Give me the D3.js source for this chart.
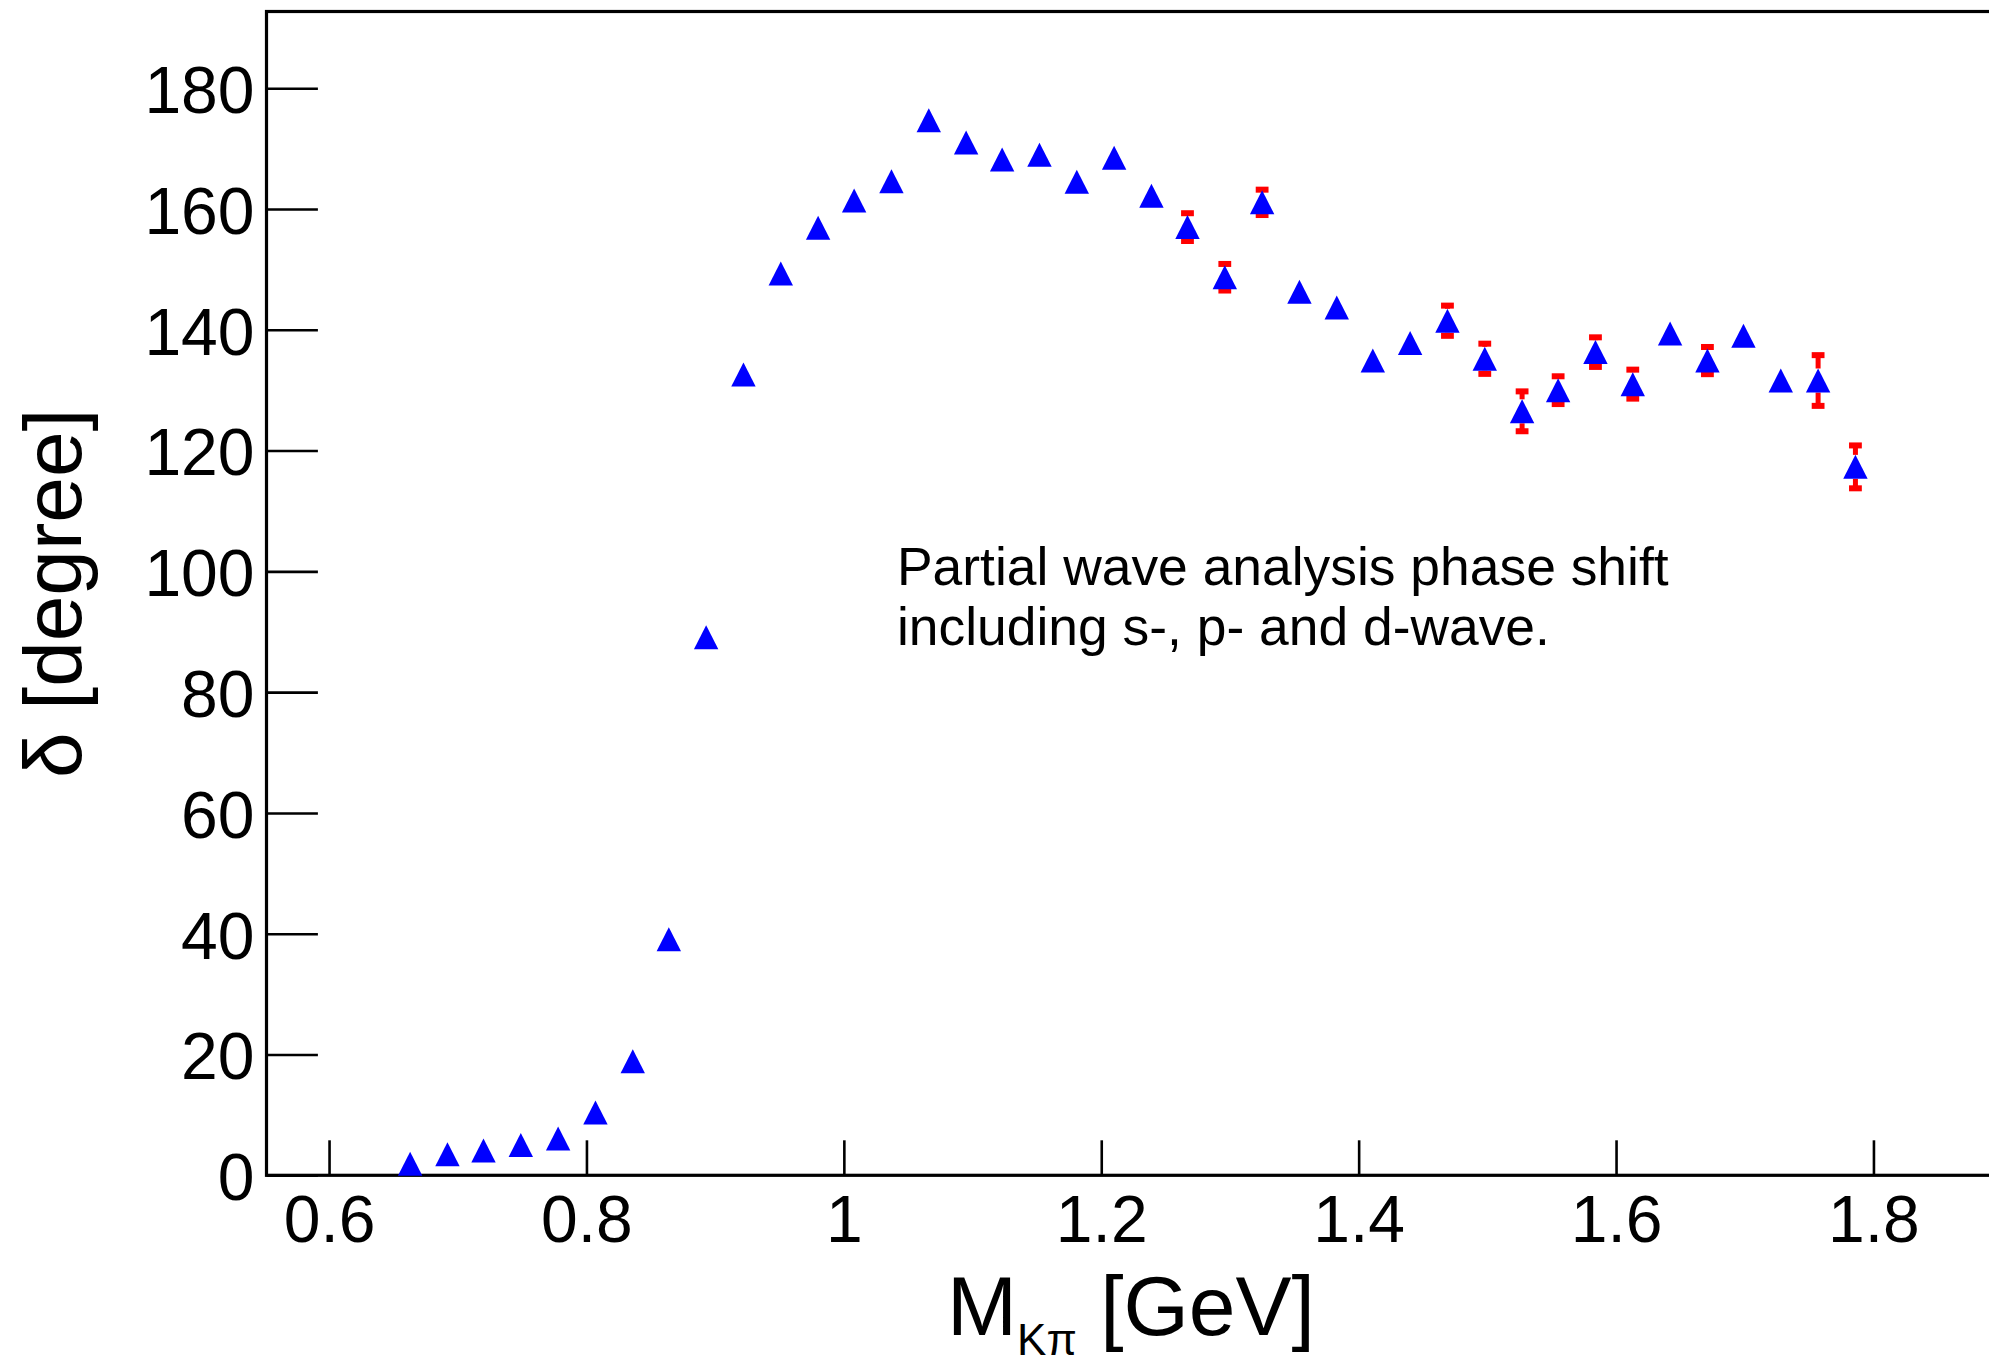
<!DOCTYPE html>
<html>
<head>
<meta charset="utf-8">
<title>K pi phase shift</title>
<script src="https://d3js.org/d3.v7.min.js"></script>
<style>
body { margin: 0; background: #fff; }
svg { display: block; font-family: "Liberation Sans", Arial, Helvetica, sans-serif; }
</style>
</head>
<body>
<div id="chart"></div>

<script>
// K pi mass bins [GeV]
var mass = [0.663, 0.692, 0.720, 0.749, 0.778, 0.807, 0.836, 0.864, 0.893, 0.922,
            0.951, 0.980, 1.008, 1.037, 1.066, 1.095, 1.123, 1.152, 1.181, 1.210,
            1.239, 1.267, 1.296, 1.325, 1.354, 1.383, 1.411, 1.440, 1.469, 1.498,
            1.527, 1.555, 1.584, 1.613, 1.642, 1.671, 1.699, 1.728, 1.757, 1.786];

// phase shift [degree]
var phase = [1.9, 3.5, 4.1, 5.0, 6.1, 10.4, 18.9, 39.1, 89.1, 132.6,
             149.3, 156.9, 161.4, 164.6, 174.7, 171.0, 168.2, 169.0, 164.5, 168.5,
             162.2, 157.0, 148.7, 161.1, 146.3, 143.7, 134.9, 137.8, 141.5, 135.2,
             126.5, 130.0, 136.3, 131.0, 139.4, 134.9, 139.0, 131.6, 131.6, 117.3];

// error on phase shift [degree]
var phaseErr = [0.3, 0.3, 0.3, 0.3, 0.4, 0.5, 0.6, 0.8, 1.0, 1.2,
                1.2, 1.3, 1.3, 1.4, 1.5, 1.5, 1.5, 1.6, 1.6, 1.7,
                1.8, 2.3, 2.2, 2.1, 1.8, 1.8, 1.7, 1.8, 2.5, 2.5,
                3.3, 2.3, 2.45, 2.4, 1.9, 2.25, 1.9, 1.9, 4.2, 3.55];

// tick labels
var xTicks = [0.6, 0.8, 1, 1.2, 1.4, 1.6, 1.8];
var xTickLabels = ["0.6", "0.8", "1", "1.2", "1.4", "1.6", "1.8"];
var yTicks = [0, 20, 40, 60, 80, 100, 120, 140, 160, 180];
var yTickLabels = ["0", "20", "40", "60", "80", "100", "120", "140", "160", "180"];

// text
var xTitle = {main: "M", sub: "K\u03c0", unit: " [GeV]"};
var yTitle = "\u03b4 [degree]";
var noteLines = ["Partial wave analysis phase shift", "including s-, p- and d-wave."];
var notePos = {x: 1.0413, y: 97.8};

// set the dimensions and margins of the graph
var W = 1989, H = 1365;
var margin = {top: 11.5, left: 266.5, bottom: 189.7};
var xMin = 0.5514, xMax = 1.9;
var pxPerGeV = 1287;
var plotRight = margin.left + (xMax - xMin) * pxPerGeV;
var plotBottom = H - margin.bottom;

var svg = d3.select("#chart")
  .append("svg")
    .attr("width", W)
    .attr("height", H);

//setup scales
var xScale = d3.scaleLinear()
    .domain([xMin, xMax])
    .range([margin.left, plotRight]);

var yScale = d3.scaleLinear()
    .domain([0, 192.7])
    .range([plotBottom, margin.top]);

//*******************************
// axes (ticks inside the frame)
//*******************************
var xAxis = d3.axisBottom(xScale)
    .tickValues(xTicks)
    .tickFormat(function(d, i) { return xTickLabels[i]; })
    .tickSize(-35)
    .tickPadding(20);

var xMinor = d3.axisBottom(xScale)
    .tickValues(d3.range(0.6, 1.9, 0.05).filter(function(v) {
        return Math.abs(Math.round(v * 5) - v * 5) > 0.01; }))
    .tickFormat("")
    .tickSize(-17.7);

var yAxis = d3.axisLeft(yScale)
    .tickValues(yTicks)
    .tickFormat(function(d, i) { return yTickLabels[i]; })
    .tickSize(-51.4)
    .tickPadding(12);

var yMinor = d3.axisLeft(yScale)
    .tickValues(d3.range(5, 192, 5).filter(function(v) { return v % 20 != 0; }))
    .tickFormat("")
    .tickSize(-26);

var gx = svg.append("g")
    .attr("transform", "translate(0," + plotBottom + ")");
gx.call(xMinor);
gx.call(xAxis);

var gy = svg.append("g")
    .attr("transform", "translate(" + margin.left + ",0)");
gy.call(yMinor);
gy.call(yAxis);

svg.selectAll(".domain").remove();
svg.selectAll(".tick line")
    .attr("stroke", "#000")
    .attr("stroke-width", 2.6);
svg.selectAll(".tick text")
    .attr("fill", "#000")
    .style("font-size", "66px")
    .style("font-family", "'Liberation Sans', Arial, Helvetica, sans-serif");
gy.selectAll(".tick text").attr("dy", "0.37em");

//frame
svg.append("rect")
    .attr("x", margin.left)
    .attr("y", margin.top)
    .attr("width", plotRight - margin.left)
    .attr("height", plotBottom - margin.top)
    .attr("fill", "none")
    .attr("stroke", "#000")
    .attr("stroke-width", 3.2);

//*******************************
// axis titles
//*******************************
var xt = svg.append("text")
    .attr("x", 1131)
    .attr("y", 1335)
    .attr("text-anchor", "middle")
    .style("font-size", "84px")
    .attr("fill", "#000");
xt.append("tspan").text(xTitle.main);
xt.append("tspan").attr("dy", 20).style("font-size", "44px").text(xTitle.sub);
xt.append("tspan").attr("dy", -20).text(xTitle.unit);

svg.append("text")
    .attr("transform", "translate(81," + ((margin.top + plotBottom) / 2) + ") rotate(-90)")
    .attr("text-anchor", "middle")
    .style("font-size", "82px")
    .attr("fill", "#000")
    .text(yTitle);

//*******************************
// error bars and markers
//*******************************
var data = mass.map(function(m, i) { return {x: m, y: phase[i], e: phaseErr[i]}; });
var half = 12;

var bars = svg.append("g");
data.forEach(function(d) {
    var cx = xScale(d.x), cy = yScale(d.y);
    var up = yScale(d.y + d.e), dn = yScale(d.y - d.e);
    // like ROOT: no bar when the error is hidden by the marker
    if (cy - up <= half) return;
    bars.append("line")
        .attr("x1", cx).attr("x2", cx)
        .attr("y1", cy - half).attr("y2", up)
        .attr("stroke", "#ff0000").attr("stroke-width", 5);
    bars.append("line")
        .attr("x1", cx).attr("x2", cx)
        .attr("y1", cy + half).attr("y2", dn)
        .attr("stroke", "#ff0000").attr("stroke-width", 5);
    [up, dn].forEach(function(yy) {
        bars.append("rect")
            .attr("x", cx - 6.4).attr("y", yy - 3)
            .attr("width", 12.8).attr("height", 6)
            .attr("fill", "#ff0000");
    });
});

svg.append("g")
  .selectAll("path")
  .data(data)
  .enter()
  .append("path")
    .attr("d", function(d) {
        var cx = xScale(d.x), cy = yScale(d.y);
        return "M" + (cx - 12.2) + "," + (cy + 12) + "L" + (cx + 12.2) + "," + (cy + 12) +
               "L" + cx + "," + (cy - 12) + "Z";
    })
    .attr("fill", "#0000ff");

//*******************************
// annotation
//*******************************
svg.append("g")
  .selectAll("text")
  .data(noteLines)
  .enter()
  .append("text")
    .attr("x", xScale(notePos.x))
    .attr("y", function(d, i) { return yScale(notePos.y) + i * 60.7; })
    .style("font-size", "53.4px")
    .attr("fill", "#000")
    .text(function(d) { return d; });
</script>
</body>
</html>
